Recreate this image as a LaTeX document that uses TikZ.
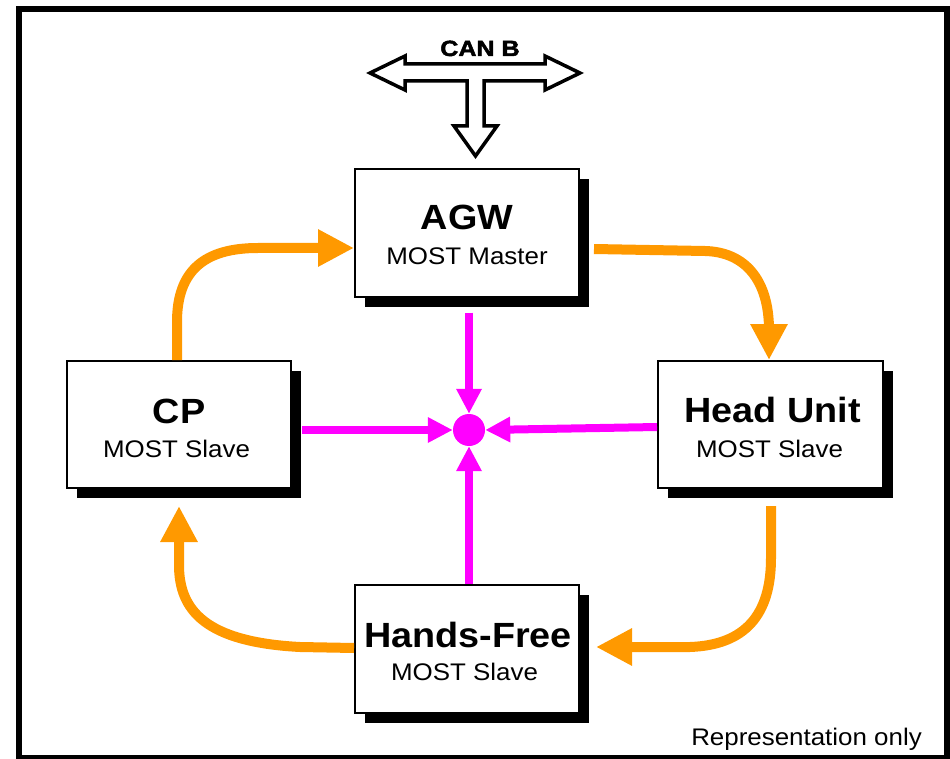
\documentclass[tikz,border=0pt]{standalone}
\usepackage{fontspec}
\setmainfont{Liberation Sans}
\newfontfamily\busfont[FakeBold=2]{Liberation Sans Bold}
\usetikzlibrary{arrows.meta,shadows}
\definecolor{ringorange}{HTML}{FF9900}
\definecolor{diagmagenta}{HTML}{FF00FF}
\newcommand\widetext[2][1.08]{\scalebox{#1}[1]{#2}}
\tikzset{
  unitbox/.style={draw=black, line width=2pt, fill=white, minimum width=224pt, minimum height=127pt,
    inner sep=0pt, drop shadow={opacity=1, fill=black, shadow xshift=10pt, shadow yshift=-10pt}},
  titletext/.style={anchor=base, inner sep=0pt, font=\bfseries\fontsize{35}{40}\selectfont},
  subtext/.style={anchor=base, inner sep=0pt, font=\fontsize{24}{28}\selectfont},
  ringarrow/.style={draw=ringorange, line width=10pt, line join=round,
    -{Triangle[length=36pt,width=35pt]}},
  feedarrow/.style={draw=diagmagenta, line width=8pt, -{Triangle[length=25pt,width=24pt]}},
}
\begin{document}
\begin{tikzpicture}[x=1pt,y=-1pt]
\useasboundingbox (0,0) rectangle (950,759);
% outer frame
\draw[line width=6pt] (19,9) rectangle (947,758);

% CAN B bus connector (hollow T-shaped double arrow)
\draw[line width=3.5pt, line join=miter, fill=white]
  (370,73) -- (405,56) -- (405,64) -- (545,64) -- (545,56) -- (580,73)
  -- (545,90) -- (545,81) -- (484,81) -- (484,126) -- (497,126) -- (475.5,156)
  -- (454,126) -- (467,126) -- (467,81) -- (405,81) -- (405,90) -- cycle;
\node[anchor=base, inner sep=0pt, font=\busfont\fontsize{22}{25}\selectfont] (canb) at (480,56) {\widetext[1.14]{CAN B}};

% control units
\node[unitbox] (agw) at (467,233) {};
\node[unitbox] (cp) at (179,424.5) {};
\node[unitbox, minimum width=225pt] (head) at (770.5,424.5) {};
\node[unitbox, minimum height=128pt] (hf) at (467,649) {};

\node[titletext] (agwT) at (467,230) {\widetext{AGW}};
\node[subtext] (agwS) at (467,265) {\widetext{MOST Master}};
\node[titletext] (cpT) at (179,423) {\widetext{CP}};
\node[subtext] (cpS) at (176.5,457) {\widetext{MOST Slave}};
\node[titletext] (headT) at (772.5,422) {\widetext{Head Unit}};
\node[subtext] (headS) at (769.5,457) {\widetext{MOST Slave}};
\node[titletext] (hfT) at (468,647) {\widetext{Hands-Free}};
\node[subtext] (hfS) at (464.5,680) {\widetext{MOST Slave}};

% central hub
\node[circle, fill=diagmagenta, minimum size=32pt, inner sep=0pt] (hub) at (469,430) {};
\draw[feedarrow] ([yshift=-15pt]agw.south -| hub) -- (hub.north);
\draw[feedarrow] ([xshift=10pt]cp.east |- hub) -- (hub.west);
\draw[feedarrow] ([yshift=-2.5pt]head.west) -- (hub.east);
\draw[feedarrow] (hf.north -| hub) -- (hub.south);

% MOST ring
\draw[ringarrow] ([xshift=-2pt]cp.north) -- (177,322)
  .. controls (177,270) and (205,248) .. (258,248) -- ([yshift=-15pt]agw.west);
\draw[ringarrow] ([xshift=14pt,yshift=-16pt]agw.east) -- (705,251)
  .. controls (745,252) and (769,280) .. (769,330) -- ([xshift=-1.5pt]head.north);
\draw[ringarrow] ([xshift=0.5pt,yshift=-17pt]head.south) -- (771,558)
  .. controls (771,615) and (745,645) .. (690,647) -- ([xshift=16pt,yshift=2pt]hf.east);
\draw[ringarrow] ([yshift=1pt]hf.west) -- (300,647)
  .. controls (205,642) and (179,610) .. (179,565) -- ([yshift=-17pt]cp.south);

\node[anchor=base east, inner sep=0pt, font=\fontsize{24}{28}\selectfont] (note) at (922,745) {\widetext{Representation only}};
\end{tikzpicture}
\end{document}
